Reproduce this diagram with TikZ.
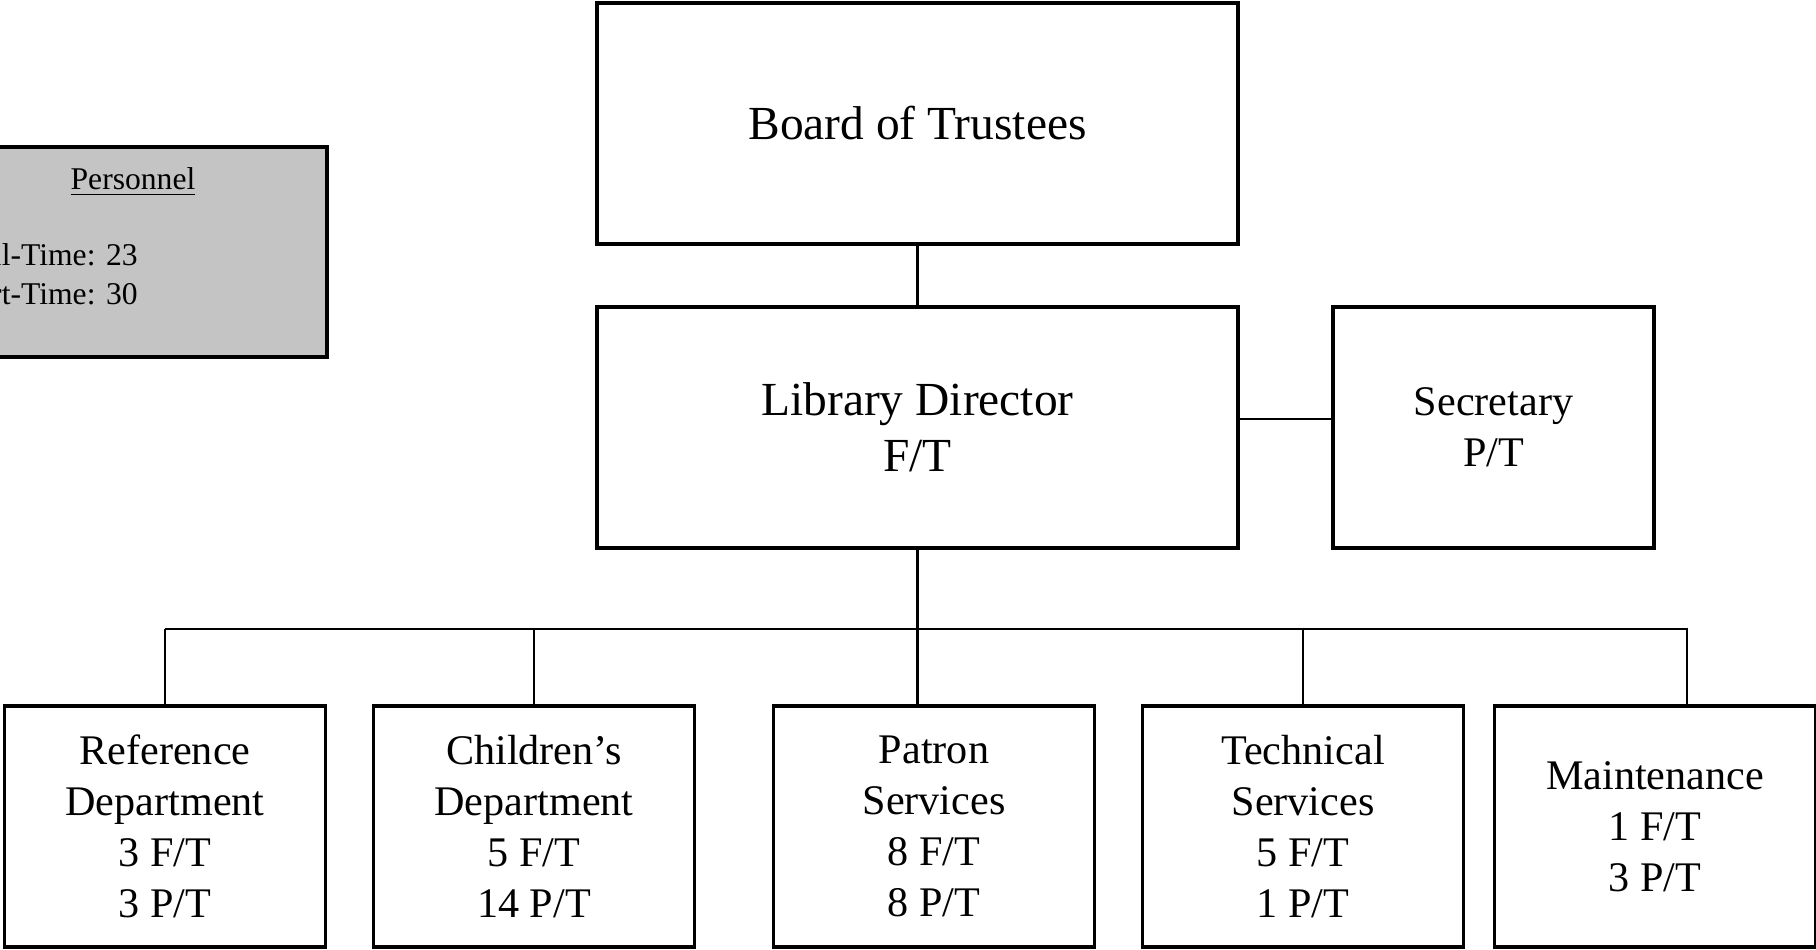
\documentclass[tikz,border=0pt]{standalone}
\usepackage{fontspec}
\setmainfont{Liberation Serif}
\usetikzlibrary{positioning}
\begin{document}
\begin{tikzpicture}[box/.style={draw,line width=1pt,minimum width=3.21cm,minimum height=2.41cm,inner sep=0pt,align=center,font=\fontsize{12}{14.5}\selectfont},
  bigbox/.style={box,minimum width=6.41cm,font=\fontsize{13.5}{15.8}\selectfont},
  note/.style={inner sep=0pt,font=\fontsize{9}{11}\selectfont},
  link/.style={line width=.6pt}]
\useasboundingbox (0,0) rectangle (18.16,9.5);
\node[bigbox] (board) at (9.175,8.265) {Board of Trustees};
\node[bigbox] (director) at (9.175,5.225) {Library Director\\F/T};
\node[box] (secretary) at (14.935,5.225) {Secretary\\P/T};
\node[box] (ref) at (1.65,1.235) {Reference\\Department\\3 F/T\\3 P/T};
\node[box,right=.445cm of ref] (child) {Children’s\\Department\\5 F/T\\14 P/T};
\node[box,right=.755cm of child] (patron) {Patron\\Services\\8 F/T\\8 P/T};
\node[box,right=.445cm of patron] (tech) {Technical\\Services\\5 F/T\\1 P/T};
\node[box,right=.275cm of tech] (maint) {Maintenance\\1 F/T\\3 P/T};
\node[draw,line width=1.2pt,fill=black!23,minimum width=3.88cm,minimum height=2.1cm] (personnel) at (1.33,6.98) {};
\node[note] (ptitle) at ([yshift=-.37cm]personnel.north) {\underline{Personnel}};
\node[note,align=left,anchor=west] (pcount) at ([xshift=.22cm,yshift=-.22cm]personnel.west) {Full-Time: 23\\Part-Time: 30};
\coordinate (bus) at (0,3.21);
\coordinate (pdrop) at (patron.north -| director.south);
\coordinate (mdrop) at ([xshift=.32cm]maint.north);
\draw[link] (board) -- (director);
\draw[link] ([yshift=2.4pt]director.east) -- ([yshift=2.4pt]secretary.west);
\draw[link] (director) -- (pdrop);
\draw[link] (ref.north |- bus) -- (mdrop |- bus) -- (mdrop);
\foreach \d in {ref,child,tech} \draw[link] (\d) -- (\d.north |- bus);
\end{tikzpicture}
\end{document}
